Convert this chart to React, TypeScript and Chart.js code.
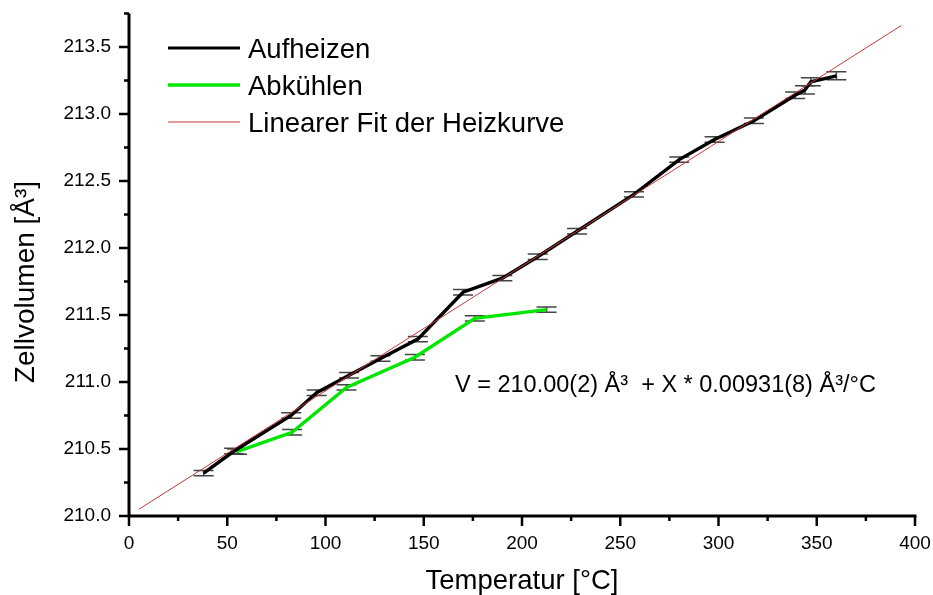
import { useEffect, useRef } from 'react';
import { Chart, registerables } from 'chart.js';

Chart.register(...registerables);

// ---- data ----
const heatTemp = [38, 53.5, 82.5, 95.5, 112, 128, 147, 170, 190, 208, 228, 257, 280, 298, 318, 339, 344, 347, 360];
const heatVol = [210.32, 210.485, 210.75, 210.92, 211.05, 211.175, 211.32, 211.67, 211.775, 211.935, 212.125, 212.4, 212.66, 212.81, 212.95, 213.14, 213.18, 213.24, 213.285];
const heatErr = [0.02, 0.02, 0.02, 0.02, 0.02, 0.02, 0.02, 0.02, 0.02, 0.02, 0.02, 0.02, 0.02, 0.02, 0.02, 0.025, 0.03, 0.03, 0.03];

const coolTemp = [55, 83, 110.7, 145.5, 176, 212.5];
const coolVol = [210.48, 210.625, 210.96, 211.185, 211.475, 211.54];
const coolErr = [0.02, 0.02, 0.02, 0.02, 0.02, 0.02];

const fitTemp = [5, 393];
const fitVol = [210.05, 213.66];

const xMajorTicks = [0, 50, 100, 150, 200, 250, 300, 350, 400];
const xMinorTicks = [25, 75, 125, 175, 225, 275, 325, 375];
const yMajorTicks = [210.0, 210.5, 211.0, 211.5, 212.0, 212.5, 213.0, 213.5];
const yMinorTicks = [210.25, 210.75, 211.25, 211.75, 212.25, 212.75, 213.25, 213.75];

const legendLabels = ['Aufheizen', 'Abkühlen', 'Linearer Fit der Heizkurve'];
const equationText = 'V = 210.00(2) Å³  + X * 0.00931(8) Å³/°C';
const xTitle = 'Temperatur [°C]';
const yTitle = 'Zellvolumen [Å³]';

const FONT = '"Liberation Sans", Arial, sans-serif';
const BLACK = '#000000';
const GREEN = '#00e600';
const RED = '#c83838';

const toPts = (xs: number[], ys: number[]) => xs.map((x, i) => ({ x, y: ys[i] }));

const zeroPad = (s: any) => {
  s.paddingTop = 0;
  s.paddingBottom = 0;
  s.paddingLeft = 0;
  s.paddingRight = 0;
};

export default function App() {
  const ref = useRef<HTMLCanvasElement>(null);

  useEffect(() => {
    const canvas = ref.current;
    if (!canvas) return;

    const decor = {
      id: 'decor',
      beforeDatasetsDraw(chart: any) {
        const ctx = chart.ctx as CanvasRenderingContext2D;
        const xs = chart.scales.x;
        const ys = chart.scales.y;
        ctx.save();
        ctx.strokeStyle = '#444444';
        ctx.lineWidth = 1.5;
        const drawBars = (tx: number[], vy: number[], ev: number[]) => {
          tx.forEach((t, i) => {
            const px = xs.getPixelForValue(t);
            const pTop = ys.getPixelForValue(vy[i] + ev[i]);
            const pBot = ys.getPixelForValue(vy[i] - ev[i]);
            ctx.beginPath();
            ctx.moveTo(px - 10, pTop);
            ctx.lineTo(px + 10, pTop);
            ctx.moveTo(px - 10, pBot);
            ctx.lineTo(px + 10, pBot);
            ctx.moveTo(px, pTop);
            ctx.lineTo(px, pBot);
            ctx.stroke();
          });
        };
        drawBars(heatTemp, heatVol, heatErr);
        drawBars(coolTemp, coolVol, coolErr);
        ctx.restore();
      },
      afterDraw(chart: any) {
        const ctx = chart.ctx as CanvasRenderingContext2D;
        const xs = chart.scales.x;
        const ys = chart.scales.y;
        const area = chart.chartArea;
        ctx.save();
        // axes lines
        ctx.strokeStyle = BLACK;
        ctx.lineWidth = 3;
        ctx.lineCap = 'butt';
        ctx.beginPath();
        ctx.moveTo(area.left, area.top);
        ctx.lineTo(area.left, area.bottom + 1.5);
        ctx.moveTo(area.left - 1.5, area.bottom);
        ctx.lineTo(area.right + 1.5, area.bottom);
        ctx.stroke();
        // ticks
        ctx.lineWidth = 2.5;
        ctx.beginPath();
        xMajorTicks.forEach((t) => {
          const px = xs.getPixelForValue(t);
          ctx.moveTo(px, area.bottom);
          ctx.lineTo(px, area.bottom + 10);
        });
        xMinorTicks.forEach((t) => {
          const px = xs.getPixelForValue(t);
          ctx.moveTo(px, area.bottom);
          ctx.lineTo(px, area.bottom + 5);
        });
        yMajorTicks.forEach((t) => {
          const py = ys.getPixelForValue(t);
          ctx.moveTo(area.left, py);
          ctx.lineTo(area.left - 10, py);
        });
        yMinorTicks.forEach((t) => {
          const py = ys.getPixelForValue(t);
          ctx.moveTo(area.left, py);
          ctx.lineTo(area.left - 5, py);
        });
        ctx.stroke();

        // legend
        const legendColors = [BLACK, GREEN, RED];
        const legendWidths = [3.2, 3.5, 1.2];
        const legendY = [48, 85, 122];
        legendLabels.forEach((lab, i) => {
          ctx.strokeStyle = legendColors[i];
          ctx.lineWidth = legendWidths[i];
          ctx.beginPath();
          ctx.moveTo(168, legendY[i]);
          ctx.lineTo(240, legendY[i]);
          ctx.stroke();
          ctx.fillStyle = BLACK;
          ctx.font = `27.5px ${FONT}`;
          ctx.textAlign = 'left';
          ctx.textBaseline = 'alphabetic';
          ctx.fillText(lab, 248, legendY[i] + 9.8);
        });

        // equation
        ctx.font = `23.5px ${FONT}`;
        ctx.fillStyle = BLACK;
        ctx.textAlign = 'left';
        ctx.fillText(equationText, 455, 392);

        // x title
        ctx.font = `27.5px ${FONT}`;
        ctx.textAlign = 'center';
        ctx.fillText(xTitle, (area.left + area.right) / 2, 589);

        // y title
        ctx.translate(34, 282);
        ctx.rotate(-Math.PI / 2);
        ctx.font = `28px ${FONT}`;
        ctx.textAlign = 'center';
        ctx.fillText(yTitle, 0, 0);
        ctx.restore();
      },
    };

    const chart = new Chart(canvas, {
      type: 'scatter',
      data: {
        datasets: [
          {
            label: legendLabels[2],
            data: toPts(fitTemp, fitVol),
            showLine: true,
            borderColor: RED,
            borderWidth: 1,
            pointRadius: 0,
            order: 0,
          },
          {
            label: legendLabels[0],
            data: toPts(heatTemp, heatVol),
            showLine: true,
            borderColor: BLACK,
            borderWidth: 3.4,
            pointRadius: 0,
            order: 1,
          },
          {
            label: legendLabels[1],
            data: toPts(coolTemp, coolVol),
            showLine: true,
            borderColor: GREEN,
            borderWidth: 3.4,
            pointRadius: 0,
            order: 2,
          },
        ],
      },
      options: {
        animation: false,
        responsive: false,
        maintainAspectRatio: false,
        layout: { padding: { top: 13.5, right: 18, left: 0, bottom: 0 } },
        plugins: { legend: { display: false }, tooltip: { enabled: false } },
        scales: {
          x: {
            type: 'linear',
            min: 0,
            max: 400,
            grid: { display: false, drawTicks: false },
            border: { display: false },
            ticks: {
              stepSize: 50,
              padding: 16,
              color: BLACK,
              maxRotation: 0,
              autoSkip: false,
              font: { family: FONT, size: 19 },
              callback: (v: any) => String(v),
            },
            afterFit: (s: any) => {
              s.height = 79;
              zeroPad(s);
            },
          },
          y: {
            type: 'linear',
            min: 210,
            max: 213.75,
            grid: { display: false, drawTicks: false },
            border: { display: false },
            ticks: {
              stepSize: 0.5,
              includeBounds: false,
              padding: 18,
              color: BLACK,
              autoSkip: false,
              font: { family: FONT, size: 19 },
              callback: (v: any) => Number(v).toFixed(1),
            },
            afterFit: (s: any) => {
              s.width = 129;
              zeroPad(s);
            },
          },
        },
      },
      plugins: [decor],
    });

    return () => chart.destroy();
  }, []);

  return (
    <div style={{ position: 'absolute', left: 0, top: 0, width: 933, height: 595, background: '#ffffff' }}>
      <canvas ref={ref} width={933} height={595} style={{ display: 'block' }} />
    </div>
  );
}
